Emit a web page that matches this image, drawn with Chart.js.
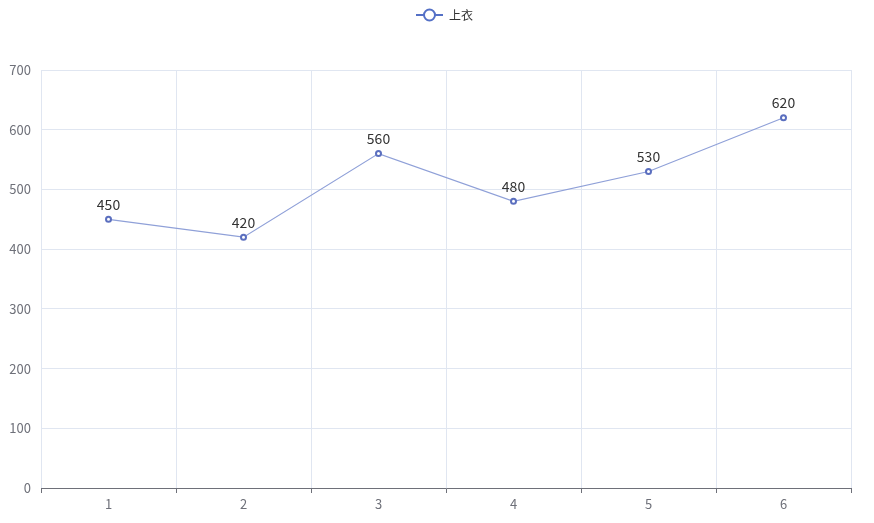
<!DOCTYPE html>
<html>
<head>
<meta charset="utf-8">
<script src="https://cdn.jsdelivr.net/npm/chart.js@4"></script>
<style>
  body { margin: 0; background: #fff; }
  #wrap { width: 874px; height: 523px; }
</style>
</head>
<body>
<div id="wrap"><canvas id="myChart"></canvas></div>
<script>
const categories = ['1', '2', '3', '4', '5', '6']
const seriesName = '上衣'
const seriesValues = [450, 420, 560, 480, 530, 620]
const yTicks = [0, 100, 200, 300, 400, 500, 600, 700]

const FONT = '"Microsoft YaHei", "Noto Sans CJK SC", sans-serif'

// value labels above points + legend at top
const extras = {
  id: 'extras',
  afterDatasetsDraw(chart) {
    const ctx = chart.ctx
    const meta = chart.getDatasetMeta(0)
    ctx.save()
    ctx.font = '14px ' + FONT
    ctx.fillStyle = '#333'
    ctx.textAlign = 'center'
    ctx.textBaseline = 'bottom'
    meta.data.forEach((pt, i) => {
      ctx.fillText(String(seriesValues[i]), pt.x, pt.y - 8)
    })
    // legend
    const cy = 15
    ctx.strokeStyle = '#5470c6'
    ctx.lineWidth = 2
    ctx.beginPath(); ctx.moveTo(416, cy); ctx.lineTo(443, cy); ctx.stroke()
    ctx.beginPath(); ctx.arc(429.5, cy, 5.5, 0, Math.PI * 2)
    ctx.fillStyle = '#fff'; ctx.fill(); ctx.stroke()
    ctx.fillStyle = '#333'
    ctx.font = '12px ' + FONT
    ctx.textAlign = 'left'
    ctx.textBaseline = 'middle'
    ctx.fillText(seriesName, 449, cy)
    ctx.restore()
  }
}

const ctx = document.getElementById('myChart')
new Chart(ctx, {
  type: 'line',
  data: {
    labels: categories,
    datasets: [{
      label: seriesName,
      data: seriesValues,
      borderColor: '#8fa0d8',
      borderWidth: 1.2,
      pointBackgroundColor: '#fff',
      pointBorderColor: '#5b6fbf',
      pointBorderWidth: 2,
      pointRadius: 2.5,
      tension: 0
    }]
  },
  options: {
    responsive: true,
    maintainAspectRatio: false,
    animation: false,
    layout: { padding: { top: 70, right: 23, left: 0, bottom: 0 } },
    plugins: { legend: { display: false }, tooltip: { enabled: false } },
    scales: {
      x: {
        offset: true,
        grid: {
          offset: true,
          color: '#e0e6f1',
          drawTicks: true,
          tickLength: 5,
          tickColor: '#6e7079'
        },
        border: { color: '#6e7079' },
        ticks: { color: '#6e7079', font: { size: 13, family: FONT }, padding: 3 },
        afterFit(s) { s.height = 35 }
      },
      y: {
        min: 0, max: 700,
        afterBuildTicks(s) { s.ticks = yTicks.map(v => ({ value: v })) },
        grid: { color: '#e0e6f1', drawTicks: false },
        border: { display: false },
        ticks: { color: '#6e7079', font: { size: 13, family: FONT }, padding: 10 },
        afterFit(s) { s.width = 41 }
      }
    }
  },
  plugins: [extras]
})
</script>
</body>
</html>
